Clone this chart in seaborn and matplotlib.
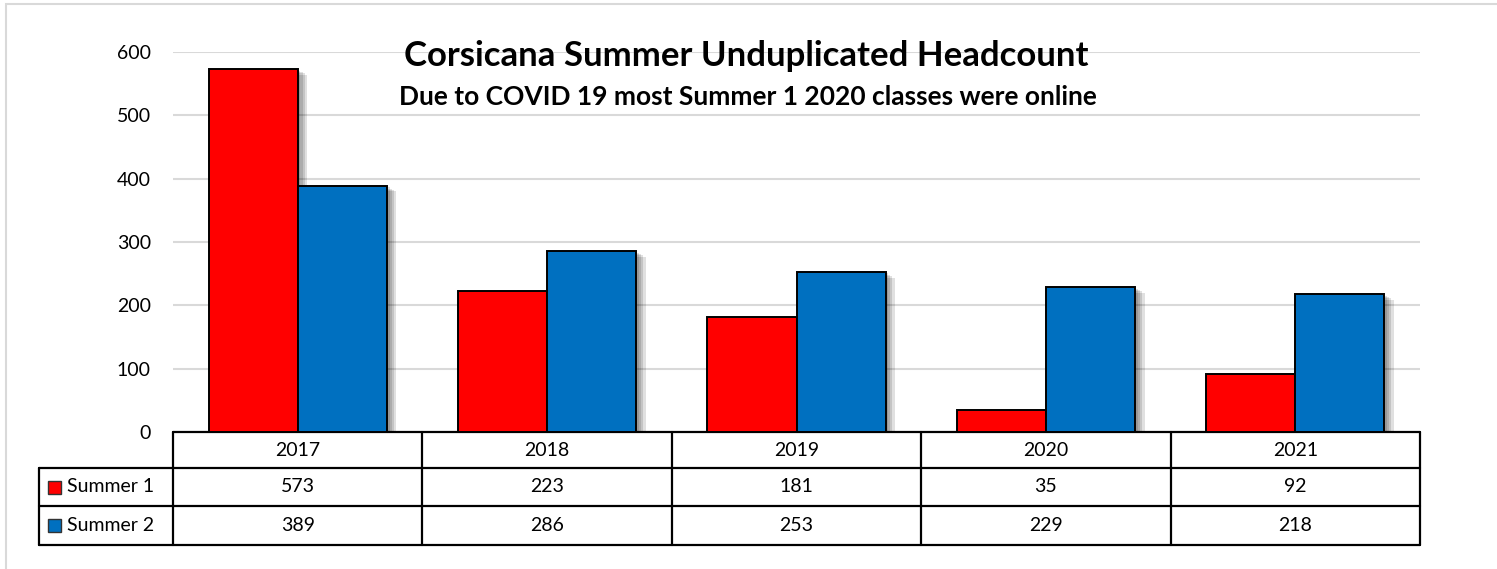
import seaborn as sns
import matplotlib.pyplot as plt
import matplotlib.transforms as mtransforms
import matplotlib.patheffects as pe
from matplotlib.patches import Rectangle
import pandas as pd

years = ['2017', '2018', '2019', '2020', '2021']
summer1 = [573, 223, 181, 35, 92]
summer2 = [389, 286, 253, 229, 218]
series = ['Summer 1', 'Summer 2']
colors = ['#FF0000', '#0070C0']

data = pd.DataFrame({
    'Year': years * 2,
    'Headcount': summer1 + summer2,
    'Term': [series[0]] * len(years) + [series[1]] * len(years),
})

sns.set_style('white')
plt.rcParams['font.family'] = ['Lato', 'DejaVu Sans']
plt.rcParams['text.color'] = 'black'
plt.rcParams['ytick.color'] = 'black'

fig = plt.figure(figsize=(14.97, 5.69), dpi=100)
ax = fig.add_axes([173 / 1497, 1 - 432 / 569, (1420 - 173) / 1497, 380 / 569])

sns.barplot(data=data, x='Year', y='Headcount', hue='Term', palette=colors,
            width=0.714, edgecolor='black', linewidth=1.4, saturation=1,
            legend=False, ax=ax, zorder=3)
# soft drop shadow, built from a few offset layers
shadow = [pe.SimplePatchShadow(offset=(d, -d * 0.6), shadow_rgbFace='black', alpha=0.12)
          for d in (7, 5, 3.5, 2)]
for bar in ax.patches:
    bar.set_path_effects(shadow + [pe.Normal()])

ax.set_xlim(-0.5, len(years) - 0.5)
ax.set_ylim(0, 600)
ax.set_yticks(range(0, 601, 100))
ax.yaxis.grid(True, color='#d9d9d9', linewidth=1.5, zorder=0)
ax.set_axisbelow(True)
for s in ax.spines.values():
    s.set_visible(False)
ax.tick_params(axis='y', length=0, pad=16, labelsize=14, labelcolor='black')
ax.set_xticks([])
ax.set_xlabel('')
ax.set_ylabel('')

# data table under the chart
trans = mtransforms.blended_transform_factory(ax.transData, ax.transAxes)
row_edges = [0, -36 / 380, -74 / 380, -113 / 380]
lab_left = (39 - 173) / 1247
lw = 1.6
ax.plot([-0.5, len(years) - 0.5], [0, 0], transform=trans, color='black', lw=lw, clip_on=False)
for y in row_edges[1:]:
    ax.plot([lab_left, 1], [y, y], transform=ax.transAxes, color='black', lw=lw, clip_on=False)
for k in range(len(years) + 1):
    ax.plot([k - 0.5, k - 0.5], [0, row_edges[-1]], transform=trans, color='black', lw=lw, clip_on=False)
ax.plot([lab_left, lab_left], [row_edges[1], row_edges[-1]], transform=ax.transAxes,
        color='black', lw=lw, clip_on=False)

for k, yr in enumerate(years):
    ax.text(k, (row_edges[0] + row_edges[1]) / 2, yr, transform=trans, ha='center', va='center', fontsize=14)
    for r, vals in enumerate([summer1, summer2]):
        ax.text(k, (row_edges[r + 1] + row_edges[r + 2]) / 2, str(vals[k]), transform=trans,
                ha='center', va='center', fontsize=14)

for r, name in enumerate(series):
    yc = (row_edges[r + 1] + row_edges[r + 2]) / 2
    ax.add_patch(Rectangle((lab_left + 9 / 1247, yc - 6.5 / 380), 13 / 1247, 13 / 380,
                           transform=ax.transAxes, facecolor=colors[r], edgecolor='#333333',
                           lw=1, clip_on=False))
    ax.text(lab_left + 28 / 1247, yc, name, transform=ax.transAxes, ha='left', va='center', fontsize=14)

fig.text(746 / 1497, 1 - 66 / 569, 'Corsicana Summer Unduplicated Headcount',
         ha='center', va='baseline', fontsize=25, fontweight='bold')
fig.text(748 / 1497, 1 - 105 / 569, 'Due to COVID 19 most Summer 1 2020 classes were online',
         ha='center', va='baseline', fontsize=19, fontweight='bold')

fig.add_artist(Rectangle((6 / 1497, -0.02), 1.1, 1 - 4 / 569 + 0.02, transform=fig.transFigure,
                         facecolor='none', edgecolor='#d9d9d9', lw=1.5))

fig.savefig('out.png', dpi=100)
